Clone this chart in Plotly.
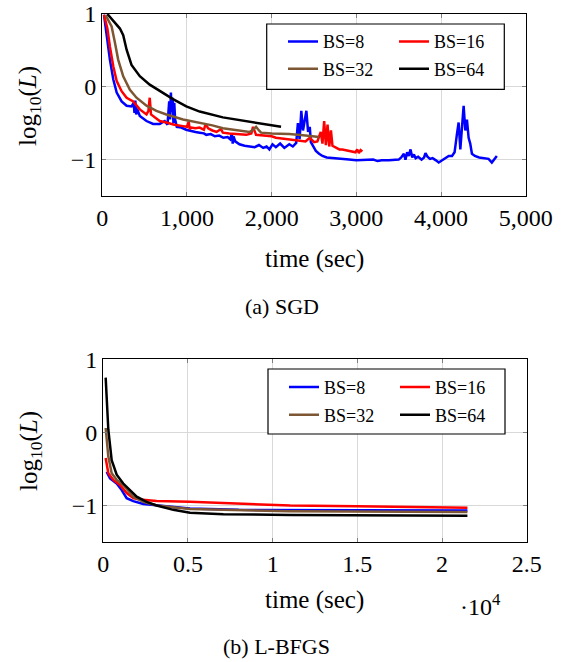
import plotly.graph_objects as go

# ---------------- data: SGD (time in sec, log10 loss) ----------------
sgd_t8 = [20, 60, 90, 130, 170, 228, 287, 345, 370, 380, 390, 400, 410, 443, 522, 600, 678, 737, 770, 790,
          800, 810, 820, 830, 840, 850, 860, 880, 933, 990, 1050, 1100, 1150, 1200, 1228, 1280, 1330, 1380,
          1430, 1480, 1510, 1530, 1540, 1550, 1570, 1600, 1620, 1680, 1740, 1800, 1850, 1900, 1940, 1973,
          2010, 2050, 2100, 2150, 2208, 2250, 2290, 2310, 2330, 2350, 2370, 2390, 2410, 2430, 2450, 2463,
          2490, 2522, 2560, 2600, 2650, 2718, 2800, 2914, 3000, 3110, 3200, 3250, 3300, 3384, 3450, 3500,
          3530, 3561, 3580, 3600, 3620, 3640, 3660, 3680, 3700, 3730, 3770, 3800, 3816, 3840, 3870, 3900,
          3940, 3973, 4000, 4040, 4091, 4130, 4160, 4188, 4208, 4228, 4248, 4267, 4287, 4306, 4326, 4345,
          4365, 4400, 4450, 4500, 4561, 4600, 4630, 4659]
sgd_v8 = [0.99, 0.60, 0.37, 0.10, -0.08, -0.20, -0.26, -0.27, -0.22, -0.36, -0.19, -0.38, -0.30, -0.40, -0.47,
          -0.51, -0.51, -0.47, -0.52, -0.20, -0.45, -0.08, -0.35, -0.15, -0.50, -0.22, -0.45, -0.55, -0.56,
          -0.59, -0.61, -0.62, -0.63, -0.64, -0.66, -0.65, -0.68, -0.67, -0.70, -0.69, -0.72, -0.64, -0.78,
          -0.68, -0.75, -0.78, -0.79, -0.81, -0.82, -0.83, -0.80, -0.84, -0.82, -0.86, -0.79, -0.83, -0.78,
          -0.84, -0.79, -0.82, -0.77, -0.50, -0.72, -0.33, -0.60, -0.45, -0.33, -0.62, -0.55, -0.76, -0.82,
          -0.88, -0.92, -0.95, -0.97, -0.98, -0.99, -1.00, -1.01, -1.01, -1.00, -1.02, -1.01, -1.01, -1.00,
          -1.00, -0.97, -0.92, -1.00, -0.90, -0.95, -0.86, -0.97, -0.93, -0.98, -0.96, -1.00, -0.97, -0.91,
          -0.96, -0.99, -0.98, -1.01, -1.04, -1.02, -0.99, -0.95, -0.95, -0.90, -0.65, -0.49, -0.86, -0.50,
          -0.26, -0.60, -0.45, -0.70, -0.78, -0.92, -0.95, -0.97, -0.98, -0.99, -1.04, -1.00, -0.95]

sgd_t16 = [20, 60, 90, 130, 170, 228, 287, 365, 443, 500, 522, 545, 560, 575, 600, 678, 757, 850, 953, 1000,
           1020, 1032, 1050, 1100, 1150, 1200, 1220, 1250, 1300, 1350, 1400, 1424, 1500, 1600, 1700, 1760, 1780,
           1816, 1900, 2000, 2050, 2130, 2200, 2250, 2326, 2400, 2450, 2500, 2540, 2580, 2600, 2620, 2640,
           2660, 2680, 2700, 2718, 2760, 2800, 2835, 2900, 2953, 2990, 3010, 3030, 3050, 3071]
sgd_v16 = [0.99, 0.80, 0.55, 0.28, 0.08, -0.06, -0.15, -0.20, -0.31, -0.36, -0.38, -0.33, -0.15, -0.38, -0.40,
           -0.47, -0.49, -0.52, -0.54, -0.55, -0.48, -0.58, -0.56, -0.57, -0.56, -0.59, -0.51, -0.57, -0.60, -0.62,
           -0.58, -0.63, -0.64, -0.65, -0.66, -0.64, -0.55, -0.66, -0.67, -0.68, -0.70, -0.71, -0.72, -0.73,
           -0.74, -0.75, -0.70, -0.76, -0.75, -0.62, -0.78, -0.47, -0.80, -0.52, -0.82, -0.60, -0.81, -0.84,
           -0.86, -0.86, -0.88, -0.89, -0.90, -0.86, -0.91, -0.87, -0.89]

sgd_t32 = [40, 110, 150, 188, 247, 326, 404, 522, 639, 757, 953, 1150, 1300, 1424, 1600, 1738, 1780, 1816,
           1850, 1875, 2000, 2208, 2400, 2561]
sgd_v32 = [0.98, 0.83, 0.60, 0.37, 0.145, -0.04, -0.15, -0.26, -0.33, -0.38, -0.45, -0.49, -0.53, -0.57,
           -0.60, -0.62, -0.59, -0.55, -0.60, -0.63, -0.64, -0.65, -0.67, -0.69]

sgd_t64 = [60, 150, 208, 247, 287, 345, 443, 560, 678, 835, 992, 1150, 1424, 1816, 2111]
sgd_v64 = [1.0, 0.87, 0.80, 0.71, 0.51, 0.30, 0.145, 0.03, -0.06, -0.17, -0.27, -0.34, -0.42, -0.50, -0.55]

# ---------------- data: L-BFGS ----------------
lb_t8 = [200, 400, 790, 1085, 1380, 1770, 2360, 3150, 5120, 8000, 12000, 16000, 21500]
lb_v8 = [-0.54, -0.63, -0.70, -0.79, -0.90, -0.94, -0.98, -1.0, -1.04, -1.06, -1.065, -1.07, -1.07]
lb_t16 = [140, 296, 590, 986, 1380, 1770, 2160, 3150, 5120, 7090, 11030, 14970, 21500]
lb_v16 = [-0.35, -0.56, -0.65, -0.72, -0.83, -0.90, -0.92, -0.94, -0.95, -0.97, -1.0, -1.01, -1.03]
lb_t32 = [140, 296, 494, 790, 1180, 1480, 1770, 2360, 3150, 5120, 11000, 21500]
lb_v32 = [0.06, -0.33, -0.56, -0.65, -0.72, -0.81, -0.88, -0.95, -1.0, -1.05, -1.08, -1.09]
lb_t64 = [140, 296, 494, 790, 1180, 1577, 1970, 2560, 3150, 4130, 5120, 7090, 11030, 21500]
lb_v64 = [0.75, 0.04, -0.38, -0.58, -0.70, -0.79, -0.88, -0.95, -1.0, -1.06, -1.10, -1.12, -1.13, -1.14]

series_names = ["BS=8", "BS=16", "BS=32", "BS=64"]
bottom_tickvals = [0, 5000, 10000, 15000, 20000, 25000]
bottom_ticktext = ["0", "0.5", "1", "1.5", "2", "2.5"]
y_ticks = [-1, 0, 1]

colors = ["#0000ff", "#ff0000", "#7d5733", "#000000"]
FONT = "Liberation Serif, Times New Roman, serif"
W, H = 569, 662

fig = go.Figure()

top = [(sgd_t8, sgd_v8), (sgd_t16, sgd_v16), (sgd_t32, sgd_v32), (sgd_t64, sgd_v64)]
bot = [(lb_t8, lb_v8), (lb_t16, lb_v16), (lb_t32, lb_v32), (lb_t64, lb_v64)]
top_leg = ["legend", "legend", "legend2", "legend2"]
bot_leg = ["legend3", "legend3", "legend4", "legend4"]

for i, (t, v) in enumerate(top):
    fig.add_trace(go.Scatter(x=t, y=v, mode="lines", name=series_names[i],
                             line=dict(color=colors[i], width=2.5),
                             xaxis="x", yaxis="y", legend=top_leg[i]))
for i, (t, v) in enumerate(bot):
    fig.add_trace(go.Scatter(x=t, y=v, mode="lines", name=series_names[i],
                             line=dict(color=colors[i], width=2.5),
                             xaxis="x2", yaxis="y2", legend=bot_leg[i]))

def px_x(p):
    return p / W

def px_y(p):
    return (H - p) / H

axis_common = dict(showgrid=True, gridcolor="#d9d9d9", gridwidth=1, zeroline=False,
                   showline=True, linecolor="black", linewidth=1.3, mirror="allticks",
                   ticks="inside", ticklen=4, tickcolor="#7f7f7f", automargin=False,
                   tickfont=dict(family=FONT, size=24, color="black"))

fig.update_layout(
    template="none",
    width=W, height=H,
    margin=dict(l=0, r=0, t=0, b=0, autoexpand=False),
    paper_bgcolor="white", plot_bgcolor="white",
    showlegend=True,
    font=dict(family=FONT, color="black"),
    xaxis=dict(domain=[px_x(102.3), px_x(525.7)], range=[0, 5000], dtick=1000,
               tickformat=",d", anchor="y", **axis_common),
    yaxis=dict(domain=[px_y(196), px_y(14)], range=[-1.5, 1], tickvals=y_ticks,
               anchor="x", **axis_common),
    xaxis2=dict(domain=[px_x(103.3), px_x(526.7)], range=[0, 25000], tickvals=bottom_tickvals,
                ticktext=bottom_ticktext, anchor="y2", **axis_common),
    yaxis2=dict(domain=[px_y(542), px_y(359.3)], range=[-1.5, 1], tickvals=y_ticks,
                anchor="x2", **axis_common),
)

leg_common = dict(orientation="h", bgcolor="rgba(0,0,0,0)", borderwidth=0,
                  font=dict(family=FONT, size=18, color="black"),
                  xanchor="left", yanchor="middle", entrywidth=66, entrywidthmode="pixels",
                  tracegroupgap=0, itemclick=False, itemdoubleclick=False)
fig.update_layout(
    legend=dict(x=px_x(283), y=px_y(41.7), **leg_common),
    legend2=dict(x=px_x(283), y=px_y(69), **leg_common),
    legend3=dict(x=px_x(284), y=px_y(387.3), **leg_common),
    legend4=dict(x=px_x(284), y=px_y(415), **leg_common),
)

# legend frames
for (x0, x1, y0, y1) in [(266.7, 504.3, 24, 89.3), (268, 505, 369, 434)]:
    fig.add_shape(type="rect", xref="paper", yref="paper",
                  x0=px_x(x0), x1=px_x(x1), y0=px_y(y1), y1=px_y(y0),
                  line=dict(color="black", width=1.2), fillcolor="white", layer="above")

def ann(text, x, y, size, angle=0):
    fig.add_annotation(text=text, x=px_x(x), y=px_y(y), xref="paper", yref="paper",
                       showarrow=False, textangle=angle, xanchor="center", yanchor="middle",
                       font=dict(family=FONT, size=size, color="black"))

ann("log<sub>10</sub>(<i>L</i>)", 29, 106, 25, -90)
ann("log<sub>10</sub>(<i>L</i>)", 30, 451, 25, -90)
ann("time (sec)", 314, 259, 25)
ann("time (sec)", 314, 600, 25)
ann("(a) SGD", 282, 306, 22)
ann("(b) L-BFGS", 276, 646, 22)
ann("·10<sup>4</sup>", 480, 605, 24)

fig.write_html("out.html")
